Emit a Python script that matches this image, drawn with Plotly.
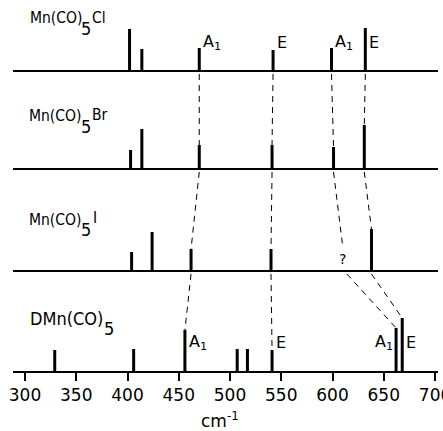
import plotly.graph_objects as go

# ---- data (wavenumbers in cm^-1, relative intensities) ----
cl_pos = [402, 414, 470, 542, 599, 632]
cl_int = [42, 22, 23, 21, 23, 43]
br_pos = [403, 414, 470, 541, 601, 631]
br_int = [19, 40, 24, 24, 22, 44]
i_pos = [404, 424, 462, 540, 638]
i_int = [19, 39, 22, 22, 42]
d_pos = [329, 406, 456, 507, 517, 541, 662, 668]
d_int = [21, 22, 41, 22, 22, 21, 43, 53]

spectra = [cl_pos, br_pos, i_pos, d_pos]
intens = [cl_int, br_int, i_int, d_int]
offsets = [300, 202, 100, 0]

# correlation links: (upper idx, upper pos, lower idx, lower pos, lower height)
links = [
    (0, 470, 1, 470, 24), (0, 542, 1, 541, 24), (0, 599, 1, 601, 22), (0, 632, 1, 631, 44),
    (1, 470, 2, 462, 22), (1, 541, 2, 540, 22), (1, 601, 2, 610, 24), (1, 631, 2, 638, 42),
    (2, 462, 3, 456, 41), (2, 540, 3, 541, 21), (2, 614, 3, 662, 43), (2, 638, 3, 668, 53),
]

tick_vals = [300, 350, 400, 450, 500, 550, 600, 650, 700]
x_range = [288.3, 702.9]

fig = go.Figure()

# dashed correlation lines
lx, ly = [], []
for ui, up, li, lp, lh in links:
    lx += [up, lp, None]
    ly += [offsets[ui] - 3, offsets[li] + lh, None]
fig.add_trace(go.Scatter(x=lx, y=ly, mode="lines",
                         line=dict(color="black", width=1, dash="6px,5px"),
                         hoverinfo="skip", showlegend=False, cliponaxis=False))

# baselines for upper spectra
bx, by = [], []
for off in offsets[:3]:
    bx += [285.5, 706.5, None]
    by += [off, off, None]
fig.add_trace(go.Scatter(x=bx, y=by, mode="lines",
                         line=dict(color="black", width=2),
                         hoverinfo="skip", showlegend=False, cliponaxis=False))

# peaks
for pos, hts, off in zip(spectra, intens, offsets):
    px, py = [], []
    for p, h in zip(pos, hts):
        px += [p, p, None]
        py += [off, off + h, None]
    fig.add_trace(go.Scatter(x=px, y=py, mode="lines",
                             line=dict(color="black", width=3),
                             hoverinfo="skip", showlegend=False, cliponaxis=False))

ann = []
FAM = "DejaVu Sans Condensed, DejaVu Sans, sans-serif"
lab_font = dict(family=FAM, size=15.5, color="black")
sub_font = dict(family=FAM, size=18, color="black")
big_font = dict(family=FAM, size=18, color="black")

def add_label(parts):
    for text, x, y, f in parts:
        ann.append(dict(text=text, x=x, y=y, xref="x", yref="y", showarrow=False,
                        xanchor="left", yanchor="middle", font=f))

add_label([("Mn(CO)", 302.5, 353, lab_font), ("5", 353, 343, sub_font), ("Cl", 363, 353, lab_font)])
add_label([("Mn(CO)", 302, 255, lab_font), ("5", 353, 245, sub_font), ("Br", 363, 256, lab_font)])
add_label([("Mn(CO)", 302, 151, lab_font), ("5", 353, 142, sub_font), ("I", 364, 153, lab_font)])
add_label([("DMn(CO)", 303, 53, big_font), ("5", 375.5, 43, big_font)])

sym_font = dict(family="DejaVu Sans", size=16, color="black")
syms = [
    ("A<sub>1</sub>", 471.5, 329, "left"), ("E", 544, 329, "left"),
    ("A<sub>1</sub>", 600.5, 329, "left"), ("E", 634, 329, "left"),
    ("A<sub>1</sub>", 458, 29, "left"), ("E", 543, 29, "left"),
    ("A<sub>1</sub>", 661, 29, "right"), ("E", 669.5, 29, "left"),
]
for t, x, y, anc in syms:
    ann.append(dict(text=t, x=x, y=y, xref="x", yref="y", showarrow=False,
                    xanchor=anc, yanchor="middle", font=sym_font))

ann.append(dict(text="?", x=609.8, y=112, xref="x", yref="y", showarrow=False,
                font=dict(family="DejaVu Sans", size=14, color="black")))
ann.append(dict(text="cm<sup>-1</sup>", x=490, y=-0.132, xref="x", yref="paper", showarrow=False,
                yanchor="middle", font=dict(family="DejaVu Sans", size=17, color="black")))
fig.update_layout(annotations=ann)

fig.update_layout(
    width=443, height=431,
    margin=dict(l=13, r=5, t=0, b=60),
    paper_bgcolor="white", plot_bgcolor="white",
    xaxis=dict(range=x_range, tickvals=tick_vals, ticktext=[str(v) for v in tick_vals],
               showline=True, linecolor="black", linewidth=2, mirror=False,
               ticks="outside", ticklen=8, tickwidth=1.5, tickcolor="black",
               ticklabeloverflow="allow", automargin=False,
               showgrid=False, zeroline=False,
               tickfont=dict(family="DejaVu Sans", size=17, color="black")),
    yaxis=dict(range=[0, 371], visible=False, showgrid=False, zeroline=False, automargin=False),
)

fig.write_html("out.html")
